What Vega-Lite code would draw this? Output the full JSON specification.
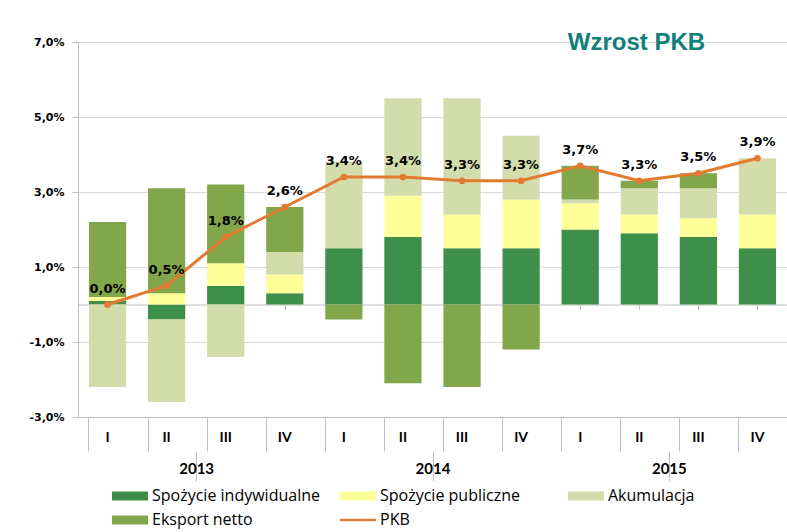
{
  "$schema": "https://vega.github.io/schema/vega-lite/v6.json",
  "width": 709,
  "height": 375,
  "autosize": {"type": "none"},
  "padding": {"left": 78, "top": 42, "right": 0, "bottom": 115},
  "background": "white",
  "config": {
    "view": {"stroke": null},
    "locale": {"number": {"decimal": ",", "thousands": " ", "grouping": [3], "currency": ["", " zł"], "minus": "-"}},
    "axis": {"labelColor": "#000000", "domainColor": "#BFBFBF", "tickColor": "#BFBFBF", "gridColor": "#D9D9D9"}
  },
  "title": {
    "text": "Wzrost PKB",
    "font": "Liberation Sans",
    "fontSize": 24,
    "fontWeight": "bold",
    "color": "#0E8078",
    "anchor": "middle",
    "frame": "group",
    "dx": 204,
    "baseline": "middle",
    "offset": -31
  },
  "datasets": {
    "bars": [
      {"q": "2013-I", "nr": 1, "series": "Spożycie indywidualne", "value": 0.001},
      {"q": "2013-I", "nr": 2, "series": "Spożycie publiczne", "value": 0.001},
      {"q": "2013-I", "nr": 3, "series": "Akumulacja", "value": -0.022},
      {"q": "2013-I", "nr": 4, "series": "Eksport netto", "value": 0.020},
      {"q": "2013-II", "nr": 1, "series": "Spożycie indywidualne", "value": -0.004},
      {"q": "2013-II", "nr": 2, "series": "Spożycie publiczne", "value": 0.003},
      {"q": "2013-II", "nr": 3, "series": "Akumulacja", "value": -0.022},
      {"q": "2013-II", "nr": 4, "series": "Eksport netto", "value": 0.028},
      {"q": "2013-III", "nr": 1, "series": "Spożycie indywidualne", "value": 0.005},
      {"q": "2013-III", "nr": 2, "series": "Spożycie publiczne", "value": 0.006},
      {"q": "2013-III", "nr": 3, "series": "Akumulacja", "value": -0.014},
      {"q": "2013-III", "nr": 4, "series": "Eksport netto", "value": 0.021},
      {"q": "2013-IV", "nr": 1, "series": "Spożycie indywidualne", "value": 0.003},
      {"q": "2013-IV", "nr": 2, "series": "Spożycie publiczne", "value": 0.005},
      {"q": "2013-IV", "nr": 3, "series": "Akumulacja", "value": 0.006},
      {"q": "2013-IV", "nr": 4, "series": "Eksport netto", "value": 0.012},
      {"q": "2014-I", "nr": 1, "series": "Spożycie indywidualne", "value": 0.015},
      {"q": "2014-I", "nr": 2, "series": "Spożycie publiczne", "value": 0.0},
      {"q": "2014-I", "nr": 3, "series": "Akumulacja", "value": 0.023},
      {"q": "2014-I", "nr": 4, "series": "Eksport netto", "value": -0.004},
      {"q": "2014-II", "nr": 1, "series": "Spożycie indywidualne", "value": 0.018},
      {"q": "2014-II", "nr": 2, "series": "Spożycie publiczne", "value": 0.011},
      {"q": "2014-II", "nr": 3, "series": "Akumulacja", "value": 0.026},
      {"q": "2014-II", "nr": 4, "series": "Eksport netto", "value": -0.021},
      {"q": "2014-III", "nr": 1, "series": "Spożycie indywidualne", "value": 0.015},
      {"q": "2014-III", "nr": 2, "series": "Spożycie publiczne", "value": 0.009},
      {"q": "2014-III", "nr": 3, "series": "Akumulacja", "value": 0.031},
      {"q": "2014-III", "nr": 4, "series": "Eksport netto", "value": -0.022},
      {"q": "2014-IV", "nr": 1, "series": "Spożycie indywidualne", "value": 0.015},
      {"q": "2014-IV", "nr": 2, "series": "Spożycie publiczne", "value": 0.013},
      {"q": "2014-IV", "nr": 3, "series": "Akumulacja", "value": 0.017},
      {"q": "2014-IV", "nr": 4, "series": "Eksport netto", "value": -0.012},
      {"q": "2015-I", "nr": 1, "series": "Spożycie indywidualne", "value": 0.020},
      {"q": "2015-I", "nr": 2, "series": "Spożycie publiczne", "value": 0.007},
      {"q": "2015-I", "nr": 3, "series": "Akumulacja", "value": 0.001},
      {"q": "2015-I", "nr": 4, "series": "Eksport netto", "value": 0.009},
      {"q": "2015-II", "nr": 1, "series": "Spożycie indywidualne", "value": 0.019},
      {"q": "2015-II", "nr": 2, "series": "Spożycie publiczne", "value": 0.005},
      {"q": "2015-II", "nr": 3, "series": "Akumulacja", "value": 0.007},
      {"q": "2015-II", "nr": 4, "series": "Eksport netto", "value": 0.002},
      {"q": "2015-III", "nr": 1, "series": "Spożycie indywidualne", "value": 0.018},
      {"q": "2015-III", "nr": 2, "series": "Spożycie publiczne", "value": 0.005},
      {"q": "2015-III", "nr": 3, "series": "Akumulacja", "value": 0.008},
      {"q": "2015-III", "nr": 4, "series": "Eksport netto", "value": 0.004},
      {"q": "2015-IV", "nr": 1, "series": "Spożycie indywidualne", "value": 0.015},
      {"q": "2015-IV", "nr": 2, "series": "Spożycie publiczne", "value": 0.009},
      {"q": "2015-IV", "nr": 3, "series": "Akumulacja", "value": 0.015},
      {"q": "2015-IV", "nr": 4, "series": "Eksport netto", "value": 0.0}
    ],
    "pkb": [
      {"q": "2013-I", "year": "2013", "series": "PKB", "pkb": 0.000},
      {"q": "2013-II", "year": "2013", "series": "PKB", "pkb": 0.005},
      {"q": "2013-III", "year": "2013", "series": "PKB", "pkb": 0.018},
      {"q": "2013-IV", "year": "2013", "series": "PKB", "pkb": 0.026},
      {"q": "2014-I", "year": "2014", "series": "PKB", "pkb": 0.034},
      {"q": "2014-II", "year": "2014", "series": "PKB", "pkb": 0.034},
      {"q": "2014-III", "year": "2014", "series": "PKB", "pkb": 0.033},
      {"q": "2014-IV", "year": "2014", "series": "PKB", "pkb": 0.033},
      {"q": "2015-I", "year": "2015", "series": "PKB", "pkb": 0.037},
      {"q": "2015-II", "year": "2015", "series": "PKB", "pkb": 0.033},
      {"q": "2015-III", "year": "2015", "series": "PKB", "pkb": 0.035},
      {"q": "2015-IV", "year": "2015", "series": "PKB", "pkb": 0.039}
    ]
  },
  "resolve": {"scale": {"x": "independent"}, "axis": {"x": "independent"}},
  "layer": [
    {
      "layer": [
        {
          "data": {"name": "bars"},
          "mark": {"type": "bar"},
          "encoding": {
            "x": {
              "field": "q", "type": "nominal", "sort": null, "title": null,
              "scale": {"paddingInner": 0.37, "paddingOuter": 0.185},
              "axis": {
                "orient": "bottom", "bandPosition": 0, "tickSize": 34, "labelPadding": -21,
                "labelAngle": 0, "labelExpr": "split(datum.label, '-')[1]",
                "labelFont": "Lato", "labelFontSize": 14, "labelFontWeight": "bold",
                "domainColor": "#BFBFBF", "tickColor": "#BFBFBF", "grid": false
              }
            },
            "y": {
              "field": "value", "type": "quantitative", "title": null, "stack": "zero",
              "scale": {"domain": [-0.03, 0.07], "nice": false},
              "axis": {
                "values": [-0.03, -0.01, 0.01, 0.03, 0.05, 0.07],
                "format": ".1%", "tickSize": 6, "labelPadding": 8,
                "labelFont": "DejaVu Sans", "labelFontSize": 11, "labelFontWeight": "bold",
                "grid": true, "gridColor": "#D9D9D9", "domainColor": "#BFBFBF", "tickColor": "#BFBFBF"
              }
            },
            "order": {"field": "nr", "type": "quantitative", "sort": "ascending"},
            "color": {
              "field": "series", "type": "nominal",
              "sort": ["Spożycie indywidualne", "Spożycie publiczne", "Akumulacja", "Eksport netto", "PKB"],
              "scale": {
                "domain": ["Spożycie indywidualne", "Spożycie publiczne", "Akumulacja", "Eksport netto", "PKB"],
                "range": ["#3D8F49", "#FFFF99", "#D3DCAB", "#82A64A", "#E37A31"]
              },
              "legend": {
                "title": null, "orient": "none", "legendX": 43, "legendY": 445,
                "direction": "horizontal",
                "columns": 3, "gridAlign": "all", "columnPadding": 20, "rowPadding": 7,
                "symbolType": "M-2,-0.5H2V0.5H-2Z", "symbolSize": 324, "labelOffset": 13,
                "labelFont": "Open Sans", "labelFontSize": 16, "labelColor": "#000000", "labelLimit": 300,
                "symbolStrokeWidth": 0,
                "encode": {
                  "symbols": {
                    "update": {
                      "shape": {"signal": "datum.value === 'PKB' ? 'M-2,-0.15H2V0.15H-2Z' : 'M-2,-0.5H2V0.5H-2Z'"},
                      "fill": {"scale": "color", "field": "value"},
                      "opacity": {"value": 1},
                      "strokeWidth": {"value": 0}
                    }
                  }
                }
              }
            }
          }
        },
        {
          "data": {"name": "pkb"},
          "mark": {"type": "line", "strokeWidth": 3, "point": {"filled": true, "size": 45}},
          "encoding": {
            "x": {"field": "q", "type": "nominal", "sort": null},
            "y": {"field": "pkb", "type": "quantitative", "title": null},
            "color": {"field": "series", "type": "nominal"}
          }
        },
        {
          "data": {"name": "pkb"},
          "mark": {"type": "text", "font": "DejaVu Sans", "fontSize": 13, "fontWeight": "bold", "color": "#000000", "dy": -16, "baseline": "middle"},
          "encoding": {
            "x": {"field": "q", "type": "nominal", "sort": null},
            "y": {"field": "pkb", "type": "quantitative", "title": null},
            "text": {"field": "pkb", "type": "quantitative", "format": ".1%"}
          }
        }
      ]
    },
    {
      "data": {"name": "pkb"},
      "mark": {"type": "point", "opacity": 0},
      "encoding": {
        "x": {
          "field": "year", "type": "nominal", "title": null,
          "scale": {"paddingInner": 0, "paddingOuter": 0},
          "axis": {
            "orient": "bottom", "offset": 34, "bandPosition": 0, "tickSize": 30, "labelPadding": -20,
            "domain": false, "labelAngle": 0, "labelFont": "Lato", "labelFontSize": 15, "labelFontWeight": "bold",
            "tickColor": "#BFBFBF", "grid": false
          }
        },
        "y": {"field": "pkb", "type": "quantitative", "title": null}
      }
    },
    {
      "data": {"name": "pkb"},
      "mark": {"type": "point", "opacity": 0},
      "encoding": {
        "x": {
          "field": "q", "type": "nominal", "sort": null, "title": null,
          "scale": {"paddingInner": 0.37, "paddingOuter": 0.185},
          "axis": {
            "orient": "bottom", "offset": -112.5, "bandPosition": 0, "tickSize": 5, "labels": false,
            "domainColor": "#BFBFBF", "tickColor": "#BFBFBF", "grid": false
          }
        },
        "y": {"field": "pkb", "type": "quantitative", "title": null}
      }
    }
  ]
}
